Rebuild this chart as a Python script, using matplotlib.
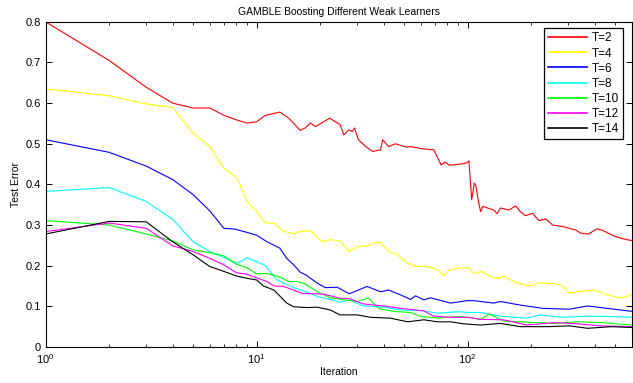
import matplotlib.pyplot as plt
from matplotlib.ticker import LogLocator, NullFormatter, FixedLocator

plt.rcParams['font.family'] = ['Liberation Sans', 'DejaVu Sans']

# T=2
it_t2 = [1, 2, 3, 4, 5, 6, 7, 8, 9, 10, 11, 12.9, 14.2, 16.1, 17, 18, 19, 20, 22.2,
         24.9, 25.9, 27.3, 28.5, 29.1, 30.4, 32.9, 35.5, 38.7, 39.6, 42.2, 45.5, 50.9,
         53.8, 60.4, 69.2, 74.9, 78.4, 82, 92.4, 99, 101.5, 104.6, 107.6, 109.2, 113,
         115.3, 118, 133, 138, 143, 157, 169, 178, 188, 203, 218, 235, 253, 284, 325,
         344, 375, 410, 440, 495, 530, 570, 600]
err_t2 = [0.80, 0.705, 0.639, 0.600, 0.588, 0.588, 0.570, 0.559, 0.551, 0.554, 0.570,
          0.578, 0.563, 0.533, 0.539, 0.551, 0.542, 0.549, 0.563, 0.547, 0.522, 0.534,
          0.530, 0.539, 0.510, 0.493, 0.481, 0.485, 0.510, 0.493, 0.500, 0.492, 0.493,
          0.488, 0.485, 0.448, 0.455, 0.447, 0.450, 0.453, 0.458, 0.362, 0.403, 0.399,
          0.354, 0.333, 0.346, 0.337, 0.328, 0.342, 0.337, 0.347, 0.333, 0.323, 0.329,
          0.311, 0.315, 0.300, 0.296, 0.288, 0.280, 0.278, 0.291, 0.286, 0.273, 0.268,
          0.264, 0.262]

# T=4
it_t4 = [1, 2, 3, 4, 5, 6, 7, 8.1, 9, 10, 11, 12.1, 13.4, 15, 16.1, 18, 20.4, 22.4,
         24.8, 27.5, 29.9, 33.4, 38.3, 42.2, 46.4, 51.8, 57.7, 64.4, 71.8, 77, 81,
         90.4, 101, 107, 116, 133, 149, 172, 199, 220, 266, 284, 304, 331, 400, 459,
         530, 600]
err_t4 = [0.635, 0.618, 0.598, 0.589, 0.526, 0.493, 0.440, 0.415, 0.358, 0.333, 0.305,
          0.304, 0.285, 0.278, 0.284, 0.286, 0.259, 0.264, 0.261, 0.235, 0.247, 0.249,
          0.259, 0.235, 0.227, 0.206, 0.198, 0.198, 0.190, 0.175, 0.188, 0.194, 0.195,
          0.181, 0.186, 0.169, 0.173, 0.157, 0.150, 0.158, 0.155, 0.149, 0.132, 0.136,
          0.140, 0.128, 0.121, 0.128]

# T=6
it_t6 = [1, 2, 3, 4, 5, 6, 7, 7.9, 9, 10, 11.2, 12.9, 13.9, 15, 16.1, 17.3, 18, 19.7,
         21.2, 24.1, 27.5, 33.4, 38.6, 42.2, 48.2, 53.7, 56.7, 62, 66.8, 83, 99.5,
         107, 133, 143, 178, 228, 304, 371, 459, 570, 600]
err_t6 = [0.510, 0.479, 0.445, 0.412, 0.375, 0.335, 0.292, 0.290, 0.282, 0.275, 0.259,
          0.243, 0.218, 0.202, 0.184, 0.176, 0.169, 0.155, 0.146, 0.147, 0.131, 0.149,
          0.136, 0.140, 0.128, 0.117, 0.126, 0.116, 0.121, 0.108, 0.114, 0.114, 0.108,
          0.112, 0.103, 0.095, 0.093, 0.101, 0.095, 0.089, 0.088]

# T=8
it_t8 = [1, 2, 3, 4, 5, 6, 7, 8.1, 9, 10, 11, 12.5, 14.5, 17.3, 19.4, 22.4, 24.8, 27.5,
         32, 40, 48, 62, 72, 90, 101, 115, 143, 191, 220, 277, 371, 480, 600]
err_t8 = [0.383, 0.392, 0.358, 0.314, 0.259, 0.235, 0.220, 0.206, 0.220, 0.210, 0.200,
          0.165, 0.149, 0.135, 0.124, 0.117, 0.110, 0.116, 0.101, 0.098, 0.091, 0.089,
          0.083, 0.087, 0.085, 0.085, 0.076, 0.071, 0.079, 0.073, 0.076, 0.075, 0.073]

# T=10
it_t10 = [1, 2, 3, 4, 5, 6, 7, 8, 9, 10, 11.2, 12.9, 14.2, 15.6, 17, 19.4, 22.4, 25.9,
          30, 34, 35.9, 38.6, 46, 53.7, 60, 72, 90, 101, 115, 127, 148, 191, 258, 331,
          428, 600]
err_t10 = [0.311, 0.300, 0.278, 0.261, 0.239, 0.232, 0.224, 0.204, 0.195, 0.180, 0.181,
           0.172, 0.161, 0.161, 0.155, 0.136, 0.121, 0.116, 0.112, 0.121, 0.106, 0.093,
           0.087, 0.085, 0.075, 0.071, 0.075, 0.073, 0.068, 0.081, 0.064, 0.061, 0.058,
           0.062, 0.060, 0.054]

# T=12
it_t12 = [1, 2, 3, 4, 5, 6, 7, 8, 9, 10, 11.2, 12.1, 13.4, 15, 16.4, 20.8, 24.8, 27.5,
          32, 40, 48, 62, 69, 83, 101, 115, 148, 191, 258, 331, 428, 600]
err_t12 = [0.284, 0.305, 0.292, 0.249, 0.235, 0.218, 0.202, 0.183, 0.179, 0.170, 0.161,
           0.150, 0.149, 0.140, 0.132, 0.130, 0.120, 0.119, 0.106, 0.101, 0.095, 0.089,
           0.076, 0.073, 0.073, 0.068, 0.067, 0.054, 0.060, 0.057, 0.052, 0.050]

# T=14
it_t14 = [1, 2, 3, 4, 5, 6, 7, 8, 9, 10, 10.8, 12.1, 13.9, 15, 17.3, 19.4, 22.4, 24.8,
          30, 34.6, 43, 52, 62, 72, 83, 96, 115, 143, 178, 238, 304, 371, 480, 600]
err_t14 = [0.278, 0.309, 0.308, 0.259, 0.227, 0.198, 0.186, 0.175, 0.169, 0.165, 0.150,
           0.140, 0.108, 0.099, 0.097, 0.098, 0.091, 0.079, 0.079, 0.073, 0.071, 0.062,
           0.067, 0.062, 0.062, 0.057, 0.054, 0.058, 0.050, 0.050, 0.052, 0.046, 0.050,
           0.048]

labels = ['T=2', 'T=4', 'T=6', 'T=8', 'T=10', 'T=12', 'T=14']
colors = ['#ff0000', '#ffff00', '#0000ff', '#00ffff', '#00ff00', '#ff00ff', '#000000']
series = [(it_t2, err_t2), (it_t4, err_t4), (it_t6, err_t6), (it_t8, err_t8),
          (it_t10, err_t10), (it_t12, err_t12), (it_t14, err_t14)]

fig = plt.figure(figsize=(6.33, 3.83), dpi=100)
ax = fig.add_axes([0.072, 0.094, 0.926, 0.849])

for (xs, ys), lab, col in zip(series, labels, colors):
    ax.plot(xs, ys, color=col, lw=0.8, label=lab)

ax.set_xscale('log')
ax.set_xlim(1, 600)
ax.set_ylim(0, 0.8)
ax.yaxis.set_major_locator(FixedLocator([0, 0.1, 0.2, 0.3, 0.4, 0.5, 0.6, 0.7, 0.8]))
ax.set_yticklabels(['0', '0.1', '0.2', '0.3', '0.4', '0.5', '0.6', '0.7', '0.8'])
ax.xaxis.set_minor_locator(LogLocator(base=10, subs=range(2, 10)))
ax.xaxis.set_minor_formatter(NullFormatter())

ax.tick_params(which='both', direction='in', top=True, right=True, labelsize=8)
ax.tick_params(which='major', length=4, width=0.7)
ax.tick_params(which='minor', length=2.5, width=0.6)
for sp in ax.spines.values():
    sp.set_linewidth(0.8)

ax.set_title('GAMBLE Boosting Different Weak Learners', fontsize=7.5, pad=5)
ax.set_xlabel('Iteration', fontsize=7.5, labelpad=1)
ax.set_ylabel('Test Error', fontsize=7.5, labelpad=3)

leg = ax.legend(loc='upper right', bbox_to_anchor=(0.9855, 0.980), fontsize=8.5,
                handlelength=3.3, handletextpad=0.4, labelspacing=0.26, borderpad=0.35,
                borderaxespad=0, fancybox=False, framealpha=1)
leg.get_frame().set_edgecolor('black')
leg.get_frame().set_linewidth(0.9)
for h in leg.get_lines():
    h.set_linewidth(1.2)

fig.savefig('out.png', dpi=100)
